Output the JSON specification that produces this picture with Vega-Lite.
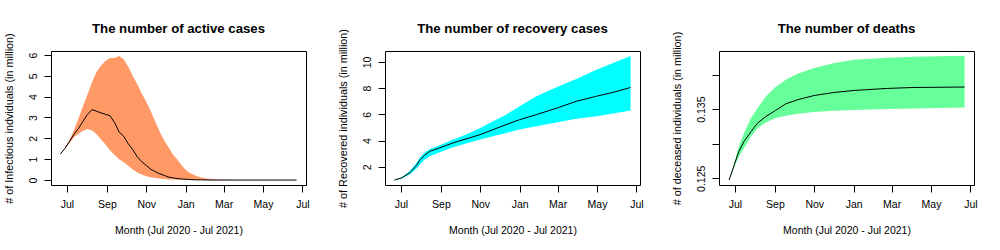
{
  "$schema": "https://vega.github.io/schema/vega-lite/v6.json",
  "padding": {"left": 2, "top": 21, "right": 5, "bottom": 0},
  "background": "white",
  "bounds": "flush",
  "spacing": 79,
  "datasets": {
    "active": [
      {"date":"2020-06-21","lo":1.25,"mid":1.25,"hi":1.25},
      {"date":"2020-06-28","lo":1.5,"mid":1.52,"hi":1.55},
      {"date":"2020-07-05","lo":1.77,"mid":1.85,"hi":1.92},
      {"date":"2020-07-12","lo":2.05,"mid":2.2,"hi":2.4},
      {"date":"2020-07-19","lo":2.22,"mid":2.48,"hi":2.95},
      {"date":"2020-07-26","lo":2.37,"mid":2.82,"hi":3.55},
      {"date":"2020-08-02","lo":2.45,"mid":3.15,"hi":4.1},
      {"date":"2020-08-09","lo":2.38,"mid":3.38,"hi":4.7},
      {"date":"2020-08-16","lo":2.2,"mid":3.3,"hi":5.2},
      {"date":"2020-08-23","lo":1.94,"mid":3.22,"hi":5.5},
      {"date":"2020-08-30","lo":1.7,"mid":3.15,"hi":5.72},
      {"date":"2020-09-06","lo":1.42,"mid":3.08,"hi":5.85},
      {"date":"2020-09-13","lo":1.2,"mid":2.75,"hi":5.85},
      {"date":"2020-09-20","lo":1.0,"mid":2.3,"hi":5.95},
      {"date":"2020-09-27","lo":0.85,"mid":2.1,"hi":5.8},
      {"date":"2020-10-04","lo":0.68,"mid":1.75,"hi":5.45},
      {"date":"2020-10-11","lo":0.5,"mid":1.46,"hi":5.0},
      {"date":"2020-10-18","lo":0.36,"mid":1.12,"hi":4.6},
      {"date":"2020-10-25","lo":0.26,"mid":0.88,"hi":4.15},
      {"date":"2020-11-01","lo":0.18,"mid":0.7,"hi":3.75},
      {"date":"2020-11-08","lo":0.13,"mid":0.52,"hi":3.3},
      {"date":"2020-11-15","lo":0.1,"mid":0.4,"hi":2.8},
      {"date":"2020-11-22","lo":0.07,"mid":0.3,"hi":2.3},
      {"date":"2020-11-29","lo":0.05,"mid":0.22,"hi":1.9},
      {"date":"2020-12-06","lo":0.03,"mid":0.14,"hi":1.55},
      {"date":"2020-12-13","lo":0.02,"mid":0.1,"hi":1.2},
      {"date":"2020-12-20","lo":0.01,"mid":0.07,"hi":0.95},
      {"date":"2020-12-27","lo":0.01,"mid":0.05,"hi":0.66},
      {"date":"2021-01-03","lo":0,"mid":0.035,"hi":0.43},
      {"date":"2021-01-10","lo":0,"mid":0.02,"hi":0.3},
      {"date":"2021-01-17","lo":0,"mid":0.01,"hi":0.2},
      {"date":"2021-01-24","lo":0,"mid":0.01,"hi":0.13},
      {"date":"2021-01-31","lo":0,"mid":0.005,"hi":0.09},
      {"date":"2021-02-07","lo":0,"mid":0,"hi":0.06},
      {"date":"2021-02-14","lo":0,"mid":0,"hi":0.04},
      {"date":"2021-02-21","lo":0,"mid":0,"hi":0.03},
      {"date":"2021-02-28","lo":0,"mid":0,"hi":0.01},
      {"date":"2021-04-04","lo":0,"mid":0,"hi":0},
      {"date":"2021-05-09","lo":0,"mid":0,"hi":0},
      {"date":"2021-06-22","lo":0,"mid":0,"hi":0}
    ],
    "recovered": [
      {"date":"2020-06-21","lo":1.0,"mid":1.0,"hi":1.0},
      {"date":"2020-07-02","lo":1.1,"mid":1.16,"hi":1.2},
      {"date":"2020-07-15","lo":1.43,"mid":1.56,"hi":1.68},
      {"date":"2020-07-25","lo":1.85,"mid":2.1,"hi":2.3},
      {"date":"2020-07-31","lo":2.2,"mid":2.55,"hi":2.75},
      {"date":"2020-08-07","lo":2.56,"mid":2.9,"hi":3.1},
      {"date":"2020-08-15","lo":2.81,"mid":3.19,"hi":3.37},
      {"date":"2020-08-30","lo":3.11,"mid":3.45,"hi":3.65},
      {"date":"2020-09-20","lo":3.49,"mid":3.83,"hi":4.08},
      {"date":"2020-10-10","lo":3.78,"mid":4.13,"hi":4.46},
      {"date":"2020-11-01","lo":4.08,"mid":4.46,"hi":4.97},
      {"date":"2020-11-21","lo":4.33,"mid":4.84,"hi":5.47},
      {"date":"2020-12-11","lo":4.59,"mid":5.22,"hi":5.98},
      {"date":"2021-01-01","lo":4.84,"mid":5.6,"hi":6.62},
      {"date":"2021-01-27","lo":5.09,"mid":5.98,"hi":7.38},
      {"date":"2021-03-01","lo":5.4,"mid":6.5,"hi":8.1},
      {"date":"2021-03-30","lo":5.66,"mid":7.0,"hi":8.7},
      {"date":"2021-04-30","lo":5.86,"mid":7.38,"hi":9.41},
      {"date":"2021-05-26","lo":6.06,"mid":7.68,"hi":9.92},
      {"date":"2021-06-22","lo":6.3,"mid":8.05,"hi":10.45}
    ],
    "deaths": [
      {"date":"2020-06-22","lo":0.12475,"mid":0.12475,"hi":0.12475},
      {"date":"2020-06-30","lo":0.12668,"mid":0.12693,"hi":0.12717},
      {"date":"2020-07-07","lo":0.12813,"mid":0.12886,"hi":0.12958},
      {"date":"2020-07-15","lo":0.12935,"mid":0.1303,"hi":0.13152},
      {"date":"2020-07-26","lo":0.13103,"mid":0.13175,"hi":0.1337},
      {"date":"2020-08-05","lo":0.13225,"mid":0.13297,"hi":0.13514},
      {"date":"2020-08-18","lo":0.13306,"mid":0.13393,"hi":0.13683},
      {"date":"2020-09-02","lo":0.1337,"mid":0.1348,"hi":0.13819},
      {"date":"2020-09-18","lo":0.13403,"mid":0.13577,"hi":0.13925},
      {"date":"2020-10-06","lo":0.13432,"mid":0.13635,"hi":0.14012},
      {"date":"2020-11-01","lo":0.13457,"mid":0.13697,"hi":0.14094},
      {"date":"2020-12-02","lo":0.13475,"mid":0.13741,"hi":0.14167},
      {"date":"2021-01-02","lo":0.13486,"mid":0.1377,"hi":0.14214},
      {"date":"2021-02-22","lo":0.135,"mid":0.13799,"hi":0.14243},
      {"date":"2021-04-05","lo":0.13509,"mid":0.13813,"hi":0.14258},
      {"date":"2021-06-22","lo":0.13523,"mid":0.13819,"hi":0.14272}
    ]
  },
  "hconcat": [
    {
      "width": 255, "height": 134,
      "data": {"name": "active"},
      "title": {"text": "The number of active cases", "offset": -3.4},
      "encoding": {
        "x": {"field": "date", "type": "temporal",
          "scale": {"type": "utc", "domain": [{"year":2020,"month":6,"date":6,"hours":8,"minutes":38,"utc":true},{"year":2021,"month":7,"date":6,"hours":15,"minutes":22,"utc":true}]},
          "axis": {"title": "Month (Jul 2020 - Jul 2021)", "labelExpr": "utcFormat(datum.value, '%b')",
            "values": [{"year":2020,"month":7,"date":1,"utc":true},{"year":2020,"month":9,"date":1,"utc":true},{"year":2020,"month":11,"date":1,"utc":true},{"year":2021,"month":1,"date":1,"utc":true},{"year":2021,"month":3,"date":1,"utc":true},{"year":2021,"month":5,"date":1,"utc":true},{"year":2021,"month":7,"date":1,"utc":true}]}}
      },
      "layer": [
        {"mark": {"type": "area", "color": "#FF9966", "opacity": 1},
         "encoding": {
           "y": {"field": "lo", "type": "quantitative", "scale": {"domain": [-0.238, 6.19], "nice": false, "zero": false},
                 "axis": {"title": "# of Infectious indviduals (in million)", "values": [0,1,2,3,4,5,6]}},
           "y2": {"field": "hi"}}},
        {"mark": {"type": "line", "color": "black", "strokeWidth": 1},
         "encoding": {
           "y": {"field": "mid", "type": "quantitative", "scale": {"domain": [-0.238, 6.19], "nice": false, "zero": false},
                 "axis": {"title": "# of Infectious indviduals (in million)", "values": [0,1,2,3,4,5,6]}}}}
      ]
    },
    {
      "width": 255, "height": 134,
      "data": {"name": "recovered"},
      "title": {"text": "The number of recovery cases", "offset": -7.6},
      "encoding": {
        "x": {"field": "date", "type": "temporal",
          "scale": {"type": "utc", "domain": [{"year":2020,"month":6,"date":6,"hours":8,"minutes":38,"utc":true},{"year":2021,"month":7,"date":6,"hours":15,"minutes":22,"utc":true}]},
          "axis": {"title": "Month (Jul 2020 - Jul 2021)", "labelExpr": "utcFormat(datum.value, '%b')",
            "values": [{"year":2020,"month":7,"date":1,"utc":true},{"year":2020,"month":9,"date":1,"utc":true},{"year":2020,"month":11,"date":1,"utc":true},{"year":2021,"month":1,"date":1,"utc":true},{"year":2021,"month":3,"date":1,"utc":true},{"year":2021,"month":5,"date":1,"utc":true},{"year":2021,"month":7,"date":1,"utc":true}]}}
      },
      "layer": [
        {"mark": {"type": "area", "color": "#00FFFF", "opacity": 1},
         "encoding": {
           "y": {"field": "lo", "type": "quantitative", "scale": {"domain": [0.62, 10.83], "nice": false, "zero": false},
                 "axis": {"title": "# of Recovered individuals (in million)", "values": [2,4,6,8,10]}},
           "y2": {"field": "hi"}}},
        {"mark": {"type": "line", "color": "black", "strokeWidth": 1},
         "encoding": {
           "y": {"field": "mid", "type": "quantitative", "scale": {"domain": [0.62, 10.83], "nice": false, "zero": false},
                 "axis": {"title": "# of Recovered individuals (in million)", "values": [2,4,6,8,10]}}}}
      ]
    },
    {
      "width": 255, "height": 134,
      "data": {"name": "deaths"},
      "title": {"text": "The number of deaths", "offset": -4.9},
      "encoding": {
        "x": {"field": "date", "type": "temporal",
          "scale": {"type": "utc", "domain": [{"year":2020,"month":6,"date":6,"hours":8,"minutes":38,"utc":true},{"year":2021,"month":7,"date":6,"hours":15,"minutes":22,"utc":true}]},
          "axis": {"title": "Month (Jul 2020 - Jul 2021)", "labelExpr": "utcFormat(datum.value, '%b')",
            "values": [{"year":2020,"month":7,"date":1,"utc":true},{"year":2020,"month":9,"date":1,"utc":true},{"year":2020,"month":11,"date":1,"utc":true},{"year":2021,"month":1,"date":1,"utc":true},{"year":2021,"month":3,"date":1,"utc":true},{"year":2021,"month":5,"date":1,"utc":true},{"year":2021,"month":7,"date":1,"utc":true}]}}
      },
      "layer": [
        {"mark": {"type": "area", "color": "#66FF99", "opacity": 1},
         "encoding": {
           "y": {"field": "lo", "type": "quantitative", "scale": {"domain": [0.12403, 0.1434], "nice": false, "zero": false},
                 "axis": {"title": "# of deceased individuals (in million)", "values": [0.125, 0.13, 0.135, 0.14], "format": ".3f",
                          "labelExpr": "abs(datum.value - 0.125) < 0.000001 || abs(datum.value - 0.135) < 0.000001 ? datum.label : ''"}},
           "y2": {"field": "hi"}}},
        {"mark": {"type": "line", "color": "black", "strokeWidth": 1},
         "encoding": {
           "y": {"field": "mid", "type": "quantitative", "scale": {"domain": [0.12403, 0.1434], "nice": false, "zero": false},
                 "axis": {"title": "# of deceased individuals (in million)", "values": [0.125, 0.13, 0.135, 0.14], "format": ".3f",
                          "labelExpr": "abs(datum.value - 0.125) < 0.000001 || abs(datum.value - 0.135) < 0.000001 ? datum.label : ''"}}}}
      ]
    }
  ],
  "config": {
    "view": {"stroke": "black", "strokeWidth": 1},
    "title": {"font": "Liberation Sans", "fontSize": 13.2, "fontWeight": "bold", "color": "black", "baseline": "alphabetic", "anchor": "middle", "frame": "group"},
    "axis": {
      "domain": false, "grid": false, "ticks": true, "tickColor": "black", "tickSize": 7, "tickWidth": 1,
      "labelFont": "Liberation Sans", "labelFontSize": 10.5, "labelColor": "black",
      "titleFont": "Liberation Sans", "titleFontSize": 10.5, "titleFontWeight": "normal", "titleColor": "black",
      "labelFlush": false, "labelOverlap": false
    },
    "axisX": {"labelBaseline": "alphabetic", "labelPadding": 15.7, "titleBaseline": "alphabetic", "titleY": 48.5, "titleX": 127.5, "titleAlign": "center", "labelAngle": 0},
    "axisY": {"labelAngle": -90, "labelAlign": "center", "labelBaseline": "alphabetic", "labelPadding": 8, "titleAngle": -90, "titleBaseline": "alphabetic", "titleX": -38.5, "titleY": 67, "titleAlign": "center", "titleFontSize": 10.8}
  }
}
